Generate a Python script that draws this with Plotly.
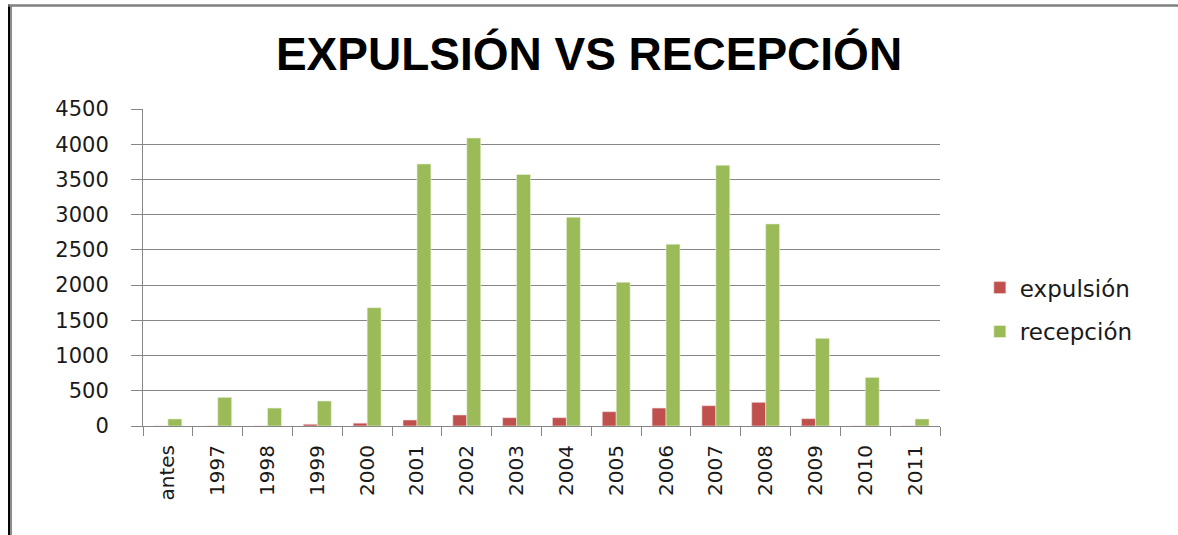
import plotly.graph_objects as go

# ── Colours ────────────────────────────────────────────────────
RED = "#C0504D"
GREEN = "#9BBB59"
AXIS = "#868686"
TEXT = "#1a1a1a"

# ── Data ───────────────────────────────────────────────────────
categories = ["antes", "1997", "1998", "1999", "2000", "2001", "2002", "2003",
              "2004", "2005", "2006", "2007", "2008", "2009", "2010", "2011"]
expulsion = [0, 0, 0, 25, 40, 85, 156, 118, 118, 203, 255, 288, 336, 104, 0, 0]
recepcion = [100, 407, 255, 355, 1680, 3720, 4089, 3570, 2964, 2042,
             2581, 3702, 2869, 1244, 690, 100]
y_ticks = [0, 500, 1000, 1500, 2000, 2500, 3000, 3500, 4000, 4500]

fig = go.Figure()

fig.add_trace(go.Bar(
    x=categories,
    y=expulsion,
    name="expulsión",
    legendgroup="a",
    marker=dict(color=RED, line=dict(color="#f2dcdb", width=0.6))
))

fig.add_trace(go.Bar(
    x=categories,
    y=recepcion,
    name="recepción",
    legendgroup="b",
    marker=dict(color=GREEN, line=dict(color="#ebf1de", width=0.6))
))

# frame of the original picture (left and top edges)
fig.add_shape(type="line", xref="paper", yref="paper",
              x0=-0.1681, x1=-0.1681, y0=-0.4, y1=1.33,
              line=dict(color="#000000", width=2))
fig.add_shape(type="line", xref="paper", yref="paper",
              x0=-0.1656, x1=-0.1656, y0=-0.4, y1=1.326,
              line=dict(color="#8c8c8c", width=2))
fig.add_shape(type="line", xref="paper", yref="paper",
              x0=-0.169, x1=1.3, y0=1.3268, y1=1.3268,
              line=dict(color="#808080", width=2.5))

fig.update_layout(
    width=1178,
    height=535,
    title=dict(
        text="<b>EXPULSIÓN VS RECEPCIÓN</b>",
        font=dict(size=46, color="#000000", family="Liberation Sans"),
        x=0.5,
        xanchor="center",
        y=0.9,
        yanchor="middle"
    ),
    plot_bgcolor="white",
    paper_bgcolor="white",
    font=dict(family="DejaVu Sans", color=TEXT, size=20),
    barmode="group",
    bargap=0.44,
    bargroupgap=0,
    margin=dict(l=143, r=238, t=109, b=109),
    xaxis=dict(
        type="category",
        tickangle=-90,
        tickson="boundaries",
        ticks="outside",
        ticklen=9,
        tickcolor=AXIS,
        showline=True,
        linecolor=AXIS,
        linewidth=1,
        showgrid=False,
        tickfont=dict(size=20),
        ticklabelstandoff=10
    ),
    yaxis=dict(
        range=[0, 4500],
        tickvals=y_ticks,
        ticks="outside",
        ticklen=11,
        tickcolor=AXIS,
        showline=True,
        linecolor=AXIS,
        linewidth=1,
        showgrid=True,
        gridcolor=AXIS,
        gridwidth=1,
        zeroline=False,
        tickfont=dict(size=21),
        ticklabelstandoff=18
    ),
    legend=dict(
        x=1.05,
        xanchor="left",
        y=0.367,
        yanchor="middle",
        traceorder="grouped",
        tracegroupgap=11,
        font=dict(size=23, color=TEXT),
        bgcolor="rgba(0,0,0,0)"
    ),
    showlegend=True
)

# drop the default page margin so the figure sits at the window's corner
fig.write_html(
    "out.html",
    config={"displayModeBar": False},
    post_script="document.body.style.margin='0';"
)
